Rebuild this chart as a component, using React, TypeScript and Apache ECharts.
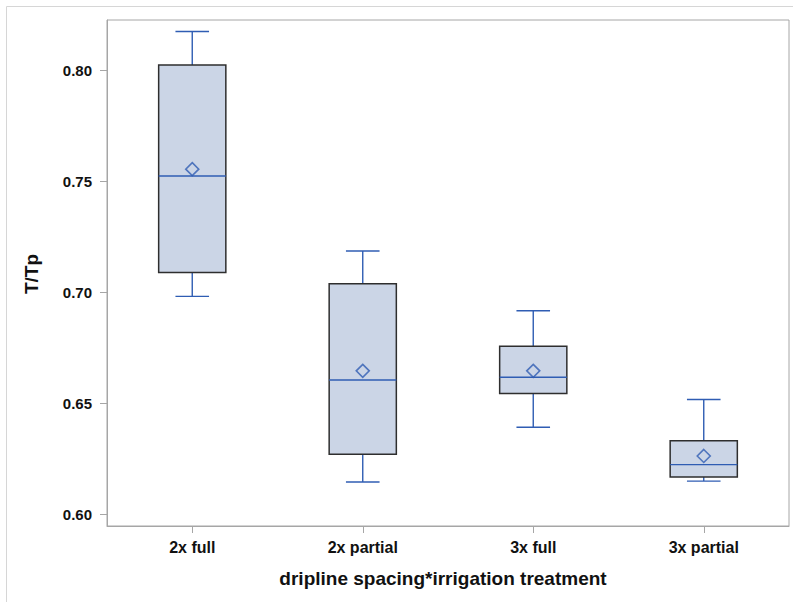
import React, { useEffect, useRef } from "react";
import * as echarts from "echarts";

const categories = ["2x full", "2x partial", "3x full", "3x partial"];
const whiskerLow = [0.6982, 0.6147, 0.6393, 0.6151];
const quartile1 = [0.7089, 0.6272, 0.6545, 0.6169];
const medians = [0.7523, 0.6606, 0.6618, 0.6225];
const quartile3 = [0.8023, 0.7039, 0.6758, 0.6332];
const whiskerHigh = [0.8173, 0.7186, 0.6917, 0.6518];
const means = [0.7554, 0.6647, 0.6647, 0.6264];
const yTicks = [0.6, 0.65, 0.7, 0.75, 0.8];

const FONT = "'Liberation Sans', Arial, Helvetica, sans-serif";
const BLUE = "#2F5DB3";
const FILL = "#CBD5E6";
const EDGE = "#2E2E2E";
const AXIS = "#A6A6A6";

export default function App() {
  const ref = useRef<HTMLDivElement>(null);

  useEffect(() => {
    if (!ref.current) return;
    const chart = echarts.init(ref.current, null, { renderer: "svg" });

    const boxData = categories.map((_, i) => [
      i,
      whiskerLow[i],
      quartile1[i],
      medians[i],
      quartile3[i],
      whiskerHigh[i],
    ]);

    const renderItem = (params: any, api: any) => {
      const idx = api.value(0);
      const x = api.coord([idx, api.value(3)])[0];
      const band = api.size([1, 0])[0];
      const halfW = band * 0.197;
      const capHalf = halfW / 2;
      const yMin = api.coord([idx, api.value(1)])[1];
      const yQ1 = api.coord([idx, api.value(2)])[1];
      const yMed = api.coord([idx, api.value(3)])[1];
      const yQ3 = api.coord([idx, api.value(4)])[1];
      const yMax = api.coord([idx, api.value(5)])[1];
      const lineStyle = { stroke: BLUE, lineWidth: 1.4 };
      return {
        type: "group",
        children: [
          { type: "line", shape: { x1: x, y1: yQ3, x2: x, y2: yMax }, style: lineStyle },
          { type: "line", shape: { x1: x - capHalf, y1: yMax, x2: x + capHalf, y2: yMax }, style: lineStyle },
          { type: "line", shape: { x1: x, y1: yQ1, x2: x, y2: yMin }, style: lineStyle },
          { type: "line", shape: { x1: x - capHalf, y1: yMin, x2: x + capHalf, y2: yMin }, style: lineStyle },
          {
            type: "rect",
            shape: { x: x - halfW, y: yQ3, width: halfW * 2, height: yQ1 - yQ3 },
            style: { fill: FILL, stroke: EDGE, lineWidth: 1.5 },
          },
          { type: "line", shape: { x1: x - halfW, y1: yMed, x2: x + halfW, y2: yMed }, style: lineStyle },
        ],
      };
    };

    chart.setOption({
      animation: false,
      backgroundColor: "#ffffff",
      textStyle: { fontFamily: FONT },
      grid: {
        left: 107,
        right: 4,
        top: 20,
        bottom: 76,
        show: true,
        borderColor: AXIS,
        borderWidth: 1,
        backgroundColor: "transparent",
      },
      xAxis: {
        type: "category",
        data: categories,
        boundaryGap: true,
        axisLine: { show: true, lineStyle: { color: AXIS, width: 1 } },
        axisTick: { show: true, alignWithLabel: true, length: 7, lineStyle: { color: AXIS } },
        axisLabel: {
          margin: 13,
          fontSize: 16,
          fontWeight: "bold",
          color: "#111",
          fontFamily: FONT,
        },
        splitLine: { show: false },
      },
      yAxis: {
        type: "value",
        min: 0.5949,
        max: 0.8225,
        axisLine: { show: true, lineStyle: { color: AXIS, width: 1 } },
        axisTick: { show: true, length: 7, lineStyle: { color: AXIS }, customValues: yTicks },
        axisLabel: {
          margin: 15,
          fontSize: 15,
          fontWeight: "bold",
          color: "#111",
          fontFamily: FONT,
          customValues: yTicks,
          formatter: (v: number) => v.toFixed(2),
        },
        splitLine: { show: false },
      },
      graphic: [
        {
          type: "rect",
          shape: { x: 6.5, y: 6.5, width: 820, height: 620 },
          style: { fill: "transparent", stroke: "#D6D6D6", lineWidth: 1 },
          silent: true,
          z: -1,
        },
        {
          type: "text",
          x: 31,
          y: 274,
          rotation: Math.PI / 2,
          style: {
            text: "T/Tp",
            fontSize: 19,
            fontWeight: "bold",
            fontFamily: FONT,
            fill: "#111",
            align: "center",
            verticalAlign: "middle",
          },
        },
        {
          type: "text",
          x: 443,
          y: 578,
          style: {
            text: "dripline spacing*irrigation treatment",
            fontSize: 19,
            fontWeight: "bold",
            fontFamily: FONT,
            fill: "#111",
            align: "center",
            verticalAlign: "middle",
          },
        },
      ],
      series: [
        {
          type: "custom",
          renderItem,
          data: boxData,
          encode: { x: 0, y: [1, 2, 3, 4, 5] },
          z: 2,
        },
        {
          type: "scatter",
          data: means.map((m, i) => [i, m]),
          symbol: "diamond",
          symbolSize: 13,
          itemStyle: { color: "rgba(0,0,0,0)", borderColor: BLUE, borderWidth: 1.6 },
          z: 3,
        },
      ],
    });

    return () => chart.dispose();
  }, []);

  return (
    <div
      ref={ref}
      style={{ position: "fixed", left: 0, top: 0, width: 793, height: 602, background: "#fff" }}
    />
  );
}
